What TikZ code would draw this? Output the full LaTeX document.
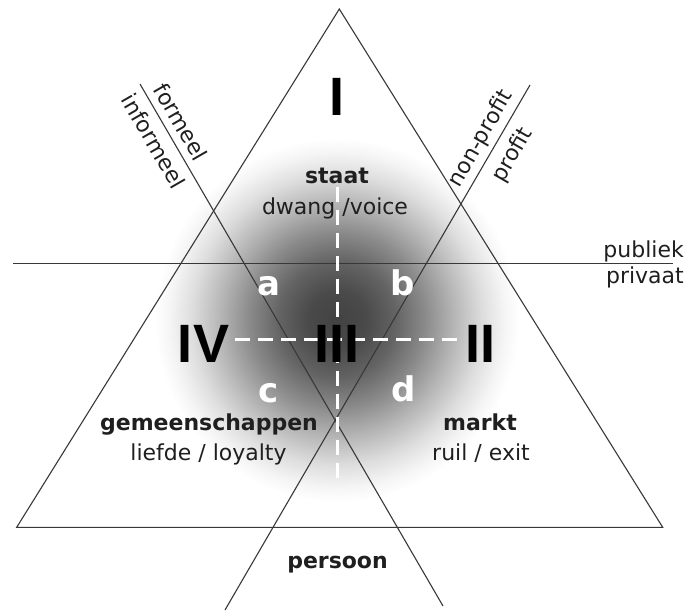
\documentclass[tikz,border=0pt]{standalone}
\usepackage{fontspec}
\setmainfont{DejaVu Sans}
\newfontfamily\numfont{Liberation Sans}
\pgfdeclareradialshading{blob}{\pgfpoint{0bp}{0bp}}{color(0bp)=(black!74); color(4bp)=(black!71); color(8bp)=(black!61); color(12bp)=(black!46); color(16bp)=(black!29); color(20bp)=(black!13); color(23bp)=(black!4); color(25bp)=(white); color(50bp)=(white)}
\begin{document}
\begin{tikzpicture}[x=1pt,y=-1pt,
  edgeline/.style={draw=black!78, line width=1.1pt},
  wdashed/.style={draw=white, line width=3pt, dash pattern=on 15pt off 8pt},
  lbl/.style={font=\fontsize{22}{26}\selectfont, text=black!88, anchor=base, inner sep=0pt},
  blbl/.style={lbl, font=\fontsize{22}{26}\selectfont\bfseries},
  numlbl/.style={font=\numfont\fontsize{54}{60}\selectfont\bfseries, text=black, anchor=base, inner sep=0pt},
  letlbl/.style={font=\fontsize{34}{40}\selectfont\bfseries, text=white, anchor=base, inner sep=0pt},
  rotlbl/.style={font=\fontsize{22}{26}\selectfont, text=black!88, inner sep=0pt}]
\useasboundingbox (0,0) rectangle (688,611);
% shading
\shade[shading=blob] (337,320) circle (182pt);
% coordinates
\coordinate (apex) at (339.3,9);
\coordinate (bl) at (16.7,527.3);
\coordinate (br) at (662.7,527.3);
\coordinate (hl) at (13,263.3);
\coordinate (hr) at (673,263.3);
\coordinate (atop) at (140,84);
\coordinate (abot) at (443,606);
\coordinate (btop) at (530,85);
\coordinate (bbot) at (225,610);
\coordinate (vtop) at (337,187);
\coordinate (vbot) at (337,478);
\coordinate (hdl) at (235,339);
\coordinate (hdr) at (460,339);
% lines
\draw[edgeline, line join=miter] (apex) -- (bl) -- (br) -- cycle;
\draw[edgeline] (hl) -- (hr);
\draw[edgeline] (atop) -- (abot);
\draw[edgeline] (btop) -- (bbot);
\draw[wdashed] (vtop) -- (vbot);
\draw[wdashed] (hdl) -- (hdr);
% numerals
\node[numlbl] (n1) at (337,115) {I};
\node[numlbl] (n4) at (203.5,362) {IV};
\node[numlbl] (n3) at (337,362) {III};
\node[numlbl] (n2) at (480,362) {II};
% letters
\node[letlbl] (la) at (269,295) {a};
\node[letlbl] (lb) at (403,295) {b};
\node[letlbl] (lc) at (269,402) {c};
\node[letlbl] (ld) at (404,401) {d};
% labels
\node[blbl] (staat) at (337,183) {staat};
\node[lbl] (voice) at (335,214) {dwang /voice};
\node[blbl] (gem) at (209,430) {gemeenschappen};
\node[lbl] (loyal) at (208.5,460) {liefde / loyalty};
\node[blbl] (markt) at (480,430) {markt};
\node[lbl] (exit) at (481,460) {ruil / exit};
\node[blbl] (pers) at (337.5,568) {persoon};
\node[lbl, anchor=base east] (pub) at (684,257) {publiek};
\node[lbl, anchor=base east] (priv) at (684,283) {privaat};
\node[rotlbl, rotate=-60] (form) at (181,122) {formeel};
\node[rotlbl, rotate=-60] (inform) at (154,141) {informeel};
\node[rotlbl, rotate=60] (nonp) at (481,139) {non-profit};
\node[rotlbl, rotate=60] (prof) at (513,155) {profit};
\end{tikzpicture}
\end{document}
